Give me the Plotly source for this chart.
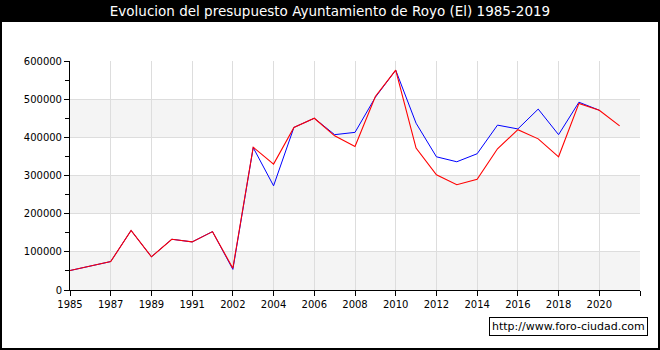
import plotly.graph_objects as go

years = ["1985", "1986", "1987", "1988", "1989", "1990", "1991", "1992",
         "2002", "2003", "2004", "2005", "2006", "2007", "2008", "2009",
         "2010", "2011", "2012", "2013", "2014", "2015", "2016", "2017",
         "2018", "2019", "2020", "2021"]

# blue series (income)
blue = [51000, 63000, 74500, 156000, 87000, 133000, 126000, 153000,
        54000, 373000, 273000, 426000, 450000, 407000, 413000, 505000,
        576000, 437000, 349000, 336000, 357000, 432000, 422000, 474000,
        407000, 492000, 471000, None]

# red series (expenses)
red = [51000, 63000, 74500, 156000, 87000, 133000, 126000, 153000,
       57000, 374000, 330000, 426000, 450000, 404000, 376000, 507000,
       576000, 372000, 302000, 276000, 290000, 370000, 420000, 396000,
       349000, 489000, 471000, 430000]

tick_labels = ["1985", "1987", "1989", "1991", "2002", "2004", "2006",
               "2008", "2010", "2012", "2014", "2016", "2018", "2020", ""]

y_ticks = [0, 100000, 200000, 300000, 400000, 500000, 600000]

idx = list(range(len(years)))

fig = go.Figure()
fig.add_trace(go.Scatter(x=idx, y=blue, mode="lines",
                         line=dict(color="#0000ff", width=1),
                         connectgaps=False, hoverinfo="skip"))
fig.add_trace(go.Scatter(x=idx, y=red, mode="lines",
                         line=dict(color="#ff0000", width=1.1),
                         hoverinfo="skip"))

L, R, T, B = 70, 20, 61, 60
W, H = 660, 350
pw, ph = W - L - R, H - T - B

def px(x):
    return (x - L) / pw

def py(y):
    return (H - B - y) / ph

shapes = []
# alternating bands
for lo in (0, 200000, 400000):
    shapes.append(dict(type="rect", xref="paper", yref="y", x0=0, x1=1,
                       y0=lo, y1=lo + 100000, fillcolor="#f4f4f4",
                       line=dict(width=0), layer="below"))
# black title bar
shapes.append(dict(type="rect", xref="paper", yref="paper",
                   x0=px(0), x1=px(W), y0=py(22), y1=py(0),
                   fillcolor="black", line=dict(width=0), layer="above"))
# outer border
shapes.append(dict(type="rect", xref="paper", yref="paper",
                   x0=px(1), x1=px(W - 1), y0=py(H - 1), y1=py(1),
                   fillcolor="rgba(0,0,0,0)", line=dict(color="black", width=2),
                   layer="above"))

fig.update_layout(
    width=W, height=H,
    margin=dict(l=L, r=R, t=T, b=B),
    paper_bgcolor="white",
    plot_bgcolor="white",
    showlegend=False,
    shapes=shapes,
    font=dict(family="DejaVu Sans", size=10, color="black"),
    title=dict(text="Evolucion del presupuesto Ayuntamiento de Royo (El) 1985-2019",
               x=0.5, xref="container", xanchor="center",
               y=1 - 11.5 / H, yref="container", yanchor="middle",
               font=dict(family="DejaVu Sans", size=13.5, color="white")),
    annotations=[dict(text="http://www.foro-ciudad.com", xref="paper", yref="paper",
                      x=px(648), y=py(326.5), xanchor="right", yanchor="middle",
                      showarrow=False, bgcolor="white", bordercolor="black",
                      borderwidth=1, borderpad=2,
                      font=dict(family="DejaVu Sans", size=11, color="black"))],
)

fig.update_xaxes(range=[0, 28], tickvals=list(range(0, 29, 2)), ticktext=tick_labels,
                 showgrid=True, gridcolor="#dddddd", gridwidth=1,
                 showline=True, linecolor="black", linewidth=1,
                 ticks="outside", ticklen=5, tickcolor="black",
                 zeroline=False, fixedrange=True)
fig.update_yaxes(range=[0, 600000], tickvals=y_ticks,
                 ticktext=[str(v) for v in y_ticks],
                 showgrid=True, gridcolor="#dddddd", gridwidth=1,
                 showline=True, linecolor="black", linewidth=1,
                 ticks="outside", ticklen=5, tickcolor="black",
                 minor=dict(tickvals=[50000, 150000, 250000, 350000, 450000, 550000],
                            ticks="outside", ticklen=4, tickcolor="black", showgrid=False),
                 zeroline=False, fixedrange=True)

fig.write_html("out.html")
